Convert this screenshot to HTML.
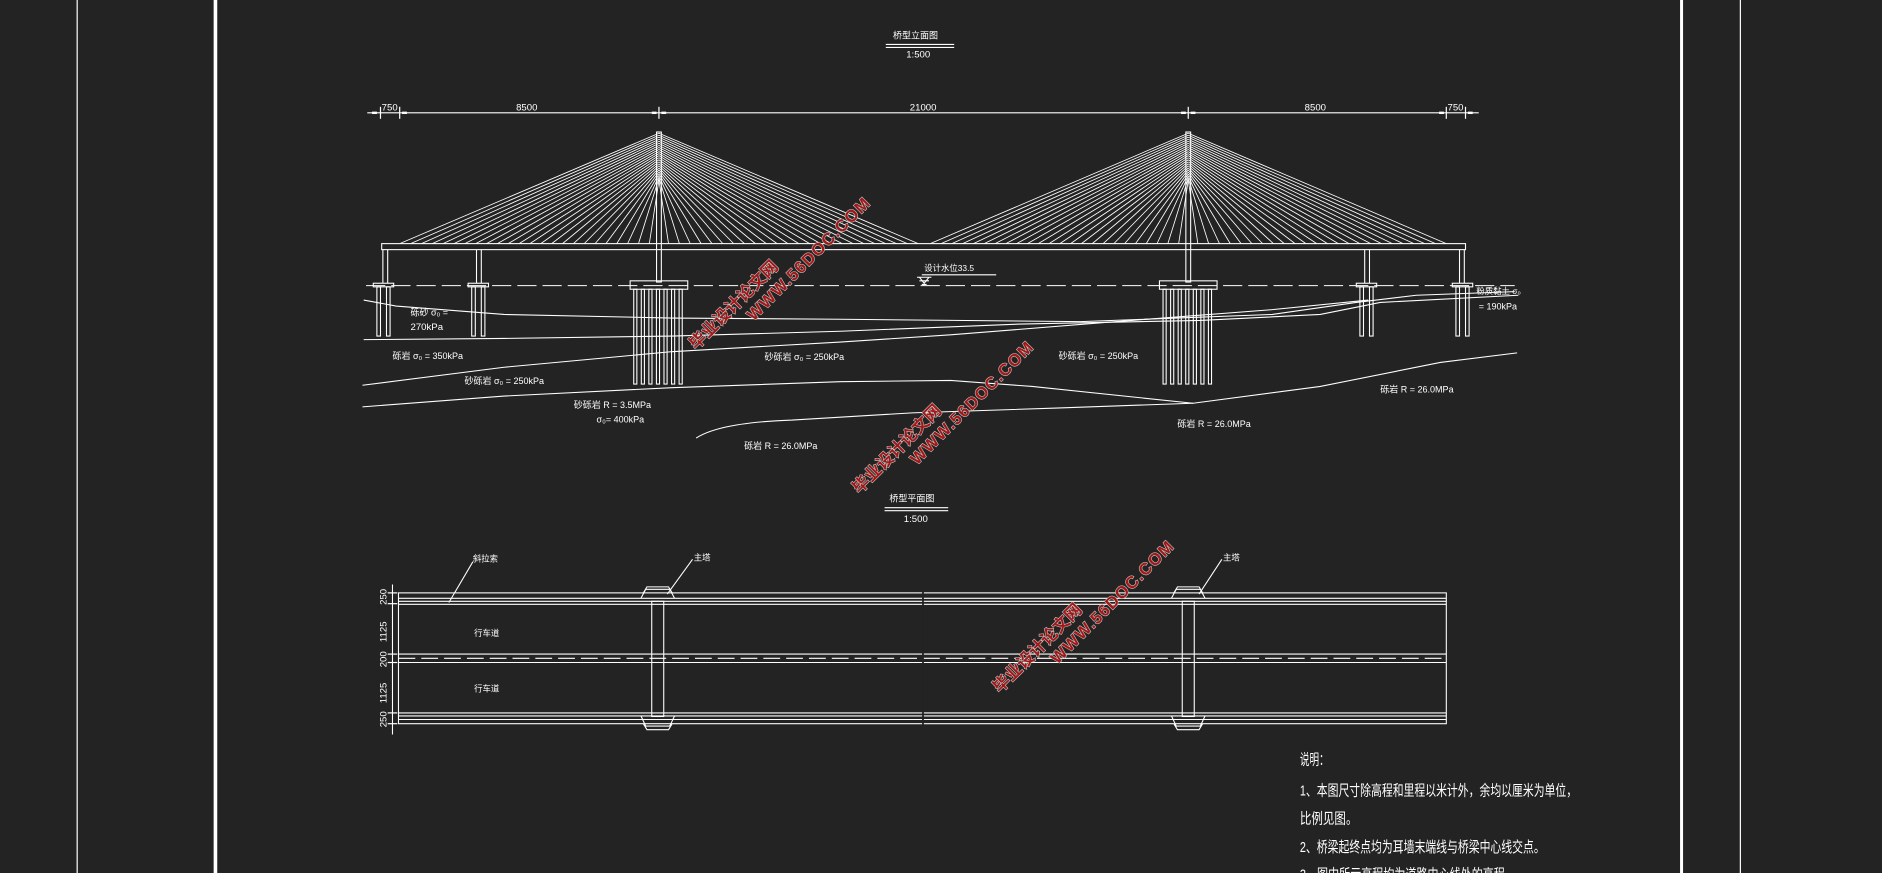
<!DOCTYPE html>
<html><head><meta charset="utf-8">
<style>
html,body{margin:0;padding:0;background:#232323;overflow:hidden}
svg{display:block}
text{font-family:"Liberation Sans","Noto Sans CJK SC",sans-serif;fill:#fff}
.wm text{font-family:"Liberation Sans","Noto Sans CJK SC",sans-serif;font-weight:bold;fill:#a01818;stroke:#cfcfcf;stroke-width:0.9;paint-order:stroke}
</style></head>
<body>
<svg id="s" width="1882" height="873" viewBox="0 0 1568 727.4" preserveAspectRatio="none" xmlns="http://www.w3.org/2000/svg">
<rect width="1568" height="728" fill="#232323"/>
<g stroke="#fff" fill="none" stroke-width="0.9">
<line x1="64.3" y1="0" x2="64.3" y2="728" stroke-width="1"/>
<line x1="179.5" y1="0" x2="179.5" y2="728" stroke-width="3"/>
<line x1="1401" y1="0" x2="1401" y2="728" stroke-width="2.5"/>
<line x1="1450" y1="0" x2="1450" y2="728" stroke-width="1"/>

<line x1="738" y1="37" x2="795" y2="37"/><line x1="738" y1="39.5" x2="795" y2="39.5"/>
<line x1="737" y1="423" x2="790" y2="423"/><line x1="737" y1="425.5" x2="790" y2="425.5"/>

<line x1="306" y1="94" x2="1232" y2="94"/>
<g stroke-width="1">
<line x1="317" y1="89" x2="317" y2="99"/><line x1="333" y1="89" x2="333" y2="99"/>
<line x1="549" y1="89" x2="549" y2="99"/><line x1="990" y1="89" x2="990" y2="99"/>
<line x1="1205" y1="89" x2="1205" y2="99"/><line x1="1221" y1="89" x2="1221" y2="99"/>
</g>
<g fill="#fff" stroke="none">
<rect x="310" y="93" width="4" height="2"/><rect x="335" y="93" width="4" height="2"/>
<rect x="543" y="93" width="4" height="2"/><rect x="551" y="93" width="4" height="2"/>
<rect x="984" y="93" width="4" height="2"/><rect x="992" y="93" width="4" height="2"/>
<rect x="1199" y="93" width="4" height="2"/><rect x="1223" y="93" width="4" height="2"/>
</g>

<rect x="318" y="203" width="903" height="5"/>
<g id="cables" stroke-width="0.7"></g>
<rect x="547" y="110" width="4" height="125"/>
<rect x="988" y="110" width="4" height="125"/>
<rect x="525" y="234" width="48" height="7"/>
<rect x="966" y="234" width="48" height="7"/>
<g id="piles"></g>
<line x1="319" y1="208" x2="319" y2="236"/><line x1="323" y1="208" x2="323" y2="236"/>
<rect x="311" y="236" width="17" height="3"/>
<rect x="314" y="239" width="3" height="41"/><rect x="322" y="239" width="3" height="41"/>
<line x1="397" y1="208" x2="397" y2="236"/><line x1="401" y1="208" x2="401" y2="236"/>
<rect x="390" y="236" width="17" height="3"/>
<rect x="393" y="239" width="3" height="41"/><rect x="401" y="239" width="3" height="41"/>
<line x1="1137" y1="208" x2="1137" y2="236"/><line x1="1141" y1="208" x2="1141" y2="236"/>
<rect x="1130" y="236" width="17" height="3"/>
<rect x="1133" y="239" width="3" height="41"/><rect x="1141" y="239" width="3" height="41"/>
<line x1="1216" y1="208" x2="1216" y2="236"/><line x1="1220" y1="208" x2="1220" y2="236"/>
<rect x="1210" y="236" width="17" height="3"/>
<rect x="1213" y="239" width="3" height="41"/><rect x="1221" y="239" width="3" height="41"/>

<line x1="305" y1="238" x2="1262" y2="238" stroke-dasharray="16,5"/>
<line x1="768" y1="229" x2="830" y2="229"/>
<path d="M764 231 L776 231 M766 234 L774 234 M768 237 L772 237 M766 231 L770 236 L774 231"/>

<path d="M303 250 L330 255 L420 262 L560 265 L700 266 L900 268 L1060 262 L1130 252 L1180 246 L1262 243"/>
<path d="M303 283 L420 282 L560 280 L700 276 L850 270 L1000 267 L1100 262 L1150 252 L1265 246"/>
<path d="M302 321 L420 306 L560 293 L700 285 L792 279 L917 269 L1060 258 L1140 250"/>
<path d="M302 339 L420 330 L560 323 L700 318 L792 317 L860 322 L994 336 L1100 322 L1200 302 L1264 294"/>
<path d="M580 365 Q600 352 660 350 L760 344 L880 340 L994 336"/>
</g>

<g stroke="#fff" fill="none" stroke-width="0.9">
<line x1="327" y1="487" x2="327" y2="612"/>
<g stroke-width="1">
<line x1="323" y1="494" x2="331" y2="494"/><line x1="323" y1="503" x2="331" y2="503"/>
<line x1="323" y1="545" x2="331" y2="545"/><line x1="323" y1="552" x2="331" y2="552"/>
<line x1="323" y1="594" x2="331" y2="594"/><line x1="323" y1="603" x2="331" y2="603"/>
</g>
<rect x="332" y="494" width="873" height="109"/>
<line x1="332" y1="498.5" x2="1205" y2="498.5"/>
<line x1="332" y1="501" x2="1205" y2="501"/>
<line x1="332" y1="503.5" x2="1205" y2="503.5"/>
<line x1="332" y1="545" x2="1205" y2="545"/>
<line x1="332" y1="548.5" x2="1205" y2="548.5" stroke-dasharray="14,5"/>
<line x1="332" y1="552" x2="1205" y2="552"/>
<line x1="332" y1="594" x2="1205" y2="594"/>
<line x1="332" y1="596.5" x2="1205" y2="596.5"/>
<line x1="332" y1="599.5" x2="1205" y2="599.5"/>
<line x1="769" y1="492" x2="769" y2="605" stroke="#232323" stroke-width="1.5"/>
<g id="pp"></g>
<line x1="374" y1="502" x2="394" y2="468"/>
<line x1="556" y1="495" x2="577" y2="466"/>
<line x1="999" y1="495" x2="1018" y2="466"/>
</g>

<g font-size="8">
<text x="744" y="32" font-size="7.5">桥型立面图</text>
<text x="755" y="48">1:500</text>
<text x="741" y="418" font-size="7.5">桥型平面图</text>
<text x="753" y="435">1:500</text>
<text x="318" y="92">750</text>
<text x="430" y="92">8500</text>
<text x="758" y="92">21000</text>
<text x="1087" y="92">8500</text>
<text x="1206" y="92">750</text>
<text x="770" y="226" font-size="7">设计水位33.5</text>
<text x="342" y="263" font-size="7.5">砾砂 σ₀ =</text>
<text x="342" y="275">270kPa</text>
<text x="327" y="299" font-size="7.5">砾岩 σ₀ = 350kPa</text>
<text x="387" y="320" font-size="7.5">砂砾岩 σ₀ = 250kPa</text>
<text x="478" y="340" font-size="7.5">砂砾岩 R = 3.5MPa</text>
<text x="497" y="352" font-size="7.5">σ₀= 400kPa</text>
<text x="620" y="374" font-size="7.5">砾岩 R = 26.0MPa</text>
<text x="637" y="300" font-size="7.5">砂砾岩 σ₀ = 250kPa</text>
<text x="882" y="299" font-size="7.5">砂砾岩 σ₀ = 250kPa</text>
<text x="981" y="356" font-size="7.5">砾岩 R = 26.0MPa</text>
<text x="1150" y="327" font-size="7.5">砾岩 R = 26.0MPa</text>
<text x="1230" y="245" font-size="7">粉质黏土 σ₀</text>
<text x="1232" y="258" font-size="7.5">= 190kPa</text>
<text x="394" y="468" font-size="7">斜拉索</text>
<text x="578" y="467" font-size="7">主塔</text>
<text x="1019" y="467" font-size="7">主塔</text>
<text x="395" y="530" font-size="7">行车道</text>
<text x="395" y="576" font-size="7">行车道</text>
<g font-size="8">
<text transform="translate(322,504) rotate(-90)">250</text>
<text transform="translate(322,535) rotate(-90)">1125</text>
<text transform="translate(322,556) rotate(-90)">200</text>
<text transform="translate(322,586) rotate(-90)">1125</text>
<text transform="translate(322,606) rotate(-90)">250</text>
</g>
</g>
<g font-size="12.5">
<text x="1083" y="637" textLength="24" lengthAdjust="spacingAndGlyphs">说明：</text>
<text x="1083" y="663" textLength="231" lengthAdjust="spacingAndGlyphs">1、本图尺寸除高程和里程以米计外，余均以厘米为单位，</text>
<text x="1083" y="686" textLength="48" lengthAdjust="spacingAndGlyphs">比例见图。</text>
<text x="1083" y="710" textLength="204" lengthAdjust="spacingAndGlyphs">2、桥梁起终点均为耳墙末端线与桥梁中心线交点。</text>
<text x="1083" y="733" textLength="180" lengthAdjust="spacingAndGlyphs">3、图中所示高程均为道路中心线处的高程。</text>
</g>

<g class="wm">
<text transform="translate(580,292) rotate(-45)" font-size="14">毕业设计论文网</text>
<text transform="translate(628,268) rotate(-45)" font-size="14" letter-spacing="1">WWW.56DOC.COM</text>
<text transform="translate(716,412) rotate(-45)" font-size="14">毕业设计论文网</text>
<text transform="translate(764,388) rotate(-45)" font-size="14" letter-spacing="1">WWW.56DOC.COM</text>
<text transform="translate(833,578) rotate(-45)" font-size="14">毕业设计论文网</text>
<text transform="translate(881,554) rotate(-45)" font-size="14" letter-spacing="1">WWW.56DOC.COM</text>
</g>
</svg>
<script>
var NS="http://www.w3.org/2000/svg";
function L(p,x1,y1,x2,y2){var l=document.createElementNS(NS,"line");l.setAttribute("x1",x1);l.setAttribute("y1",y1);l.setAttribute("x2",x2);l.setAttribute("y2",y2);p.appendChild(l);}
var c=document.getElementById("cables");
var n=24;
[[549,333,765],[990,775,1205]].forEach(function(t){
 var px=t[0];
 for(var i=0;i<n;i++){
  var yTop=111+i*1.7;
  var xl=t[1]+i*(px-8-t[1])/(n-1);
  var xr=t[2]-i*(t[2]-(px+8))/(n-1);
  L(c,px,yTop,xl,203);L(c,px,yTop,xr,203);
 }
});
var pl=document.getElementById("piles");
[525,966].forEach(function(x0){
 for(var k=0;k<7;k++){var r=document.createElementNS(NS,"rect");r.setAttribute("x",x0+3+k*6.3);r.setAttribute("y",241);r.setAttribute("width",2.6);r.setAttribute("height",79);pl.appendChild(r);}
});
var pp=document.getElementById("pp");
[548,990].forEach(function(x){
 var r=document.createElementNS(NS,"rect");r.setAttribute("x",x-5);r.setAttribute("y",501);r.setAttribute("width",10);r.setAttribute("height",96);pp.appendChild(r);
 var p=document.createElementNS(NS,"path");
 p.setAttribute("d","M"+(x-14)+" 498.5 L"+(x-10)+" 491 L"+(x+10)+" 491 L"+(x+14)+" 498.5 M"+(x-12)+" 494 L"+(x-9)+" 489 L"+(x+9)+" 489 L"+(x+12)+" 494 M"+(x-14)+" 596.5 L"+(x-10)+" 605 L"+(x+10)+" 605 L"+(x+14)+" 596.5 M"+(x-12)+" 603 L"+(x-9)+" 608 L"+(x+9)+" 608 L"+(x+12)+" 603");
 pp.appendChild(p);
});
</script>
</body></html>
